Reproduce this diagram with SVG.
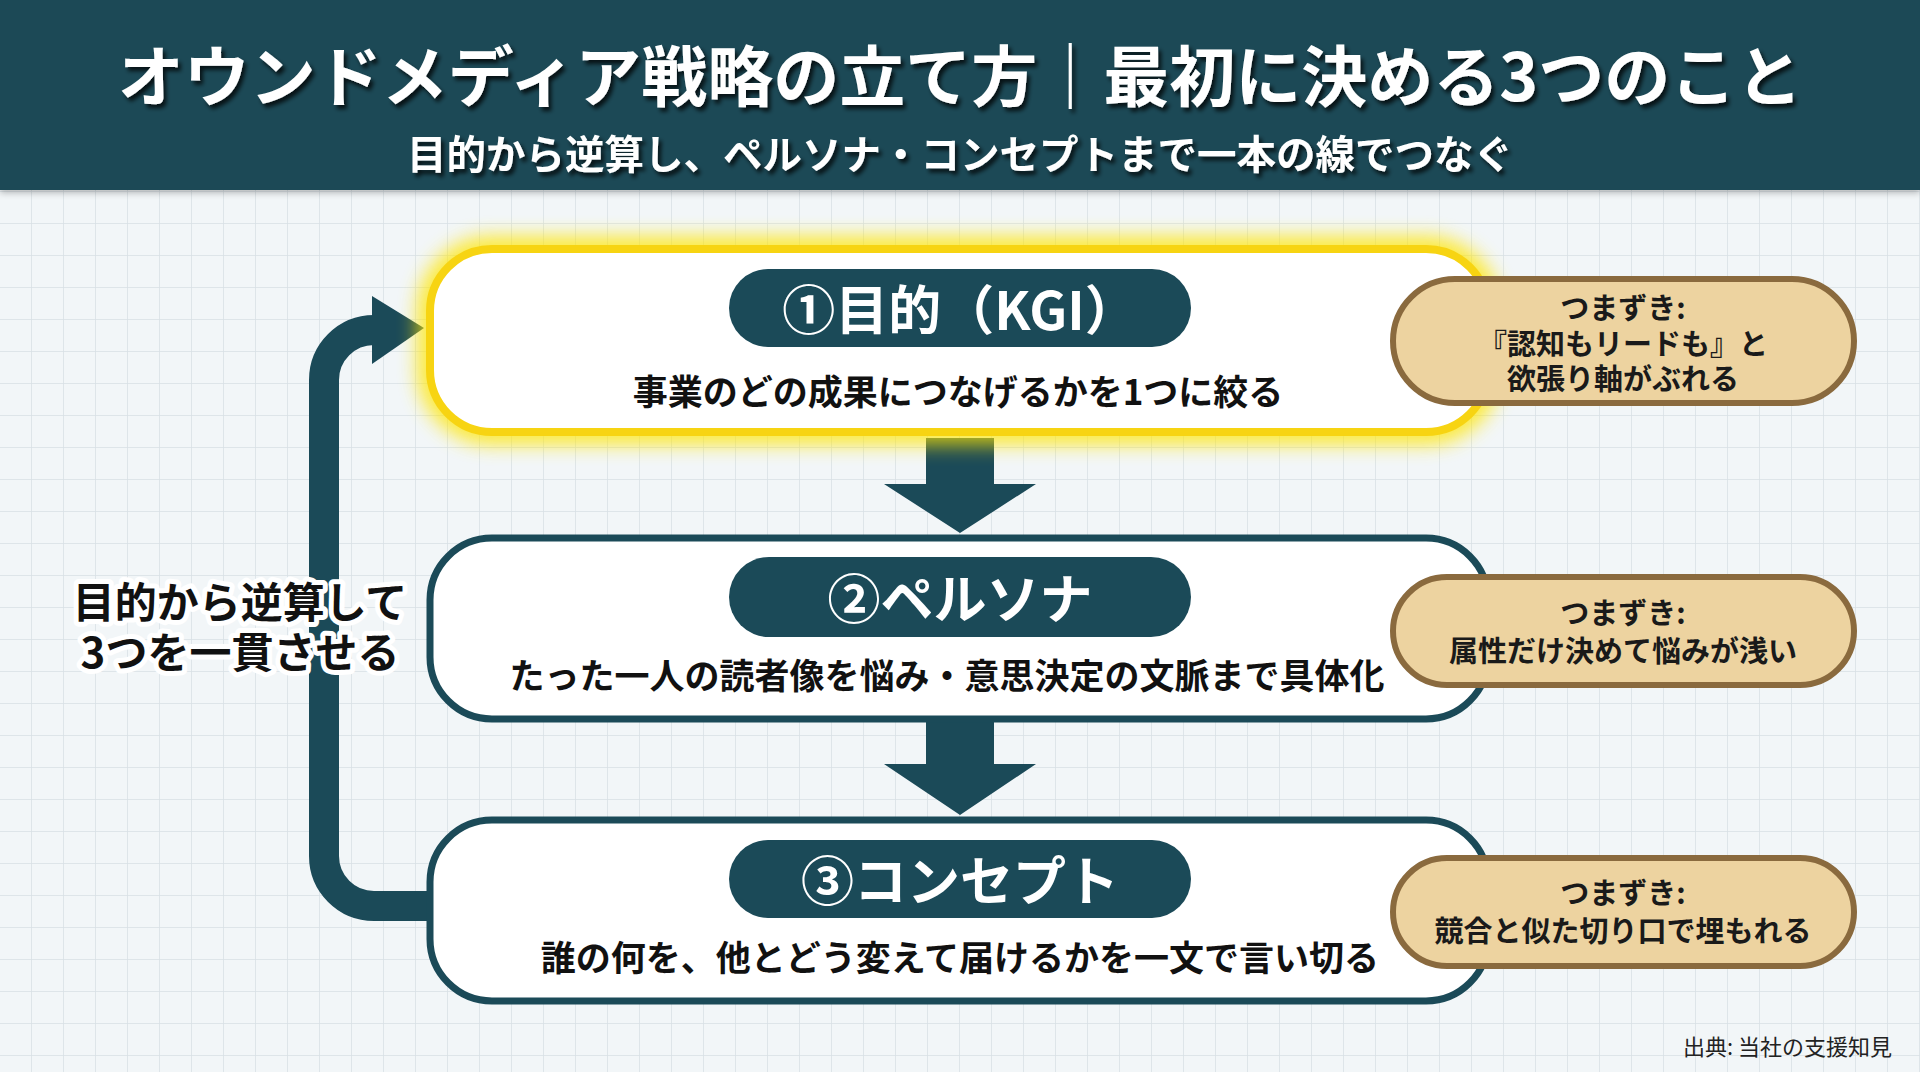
<svg xmlns="http://www.w3.org/2000/svg" width="1920" height="1072" viewBox="0 0 1920 1072">
  <defs>
    <pattern id="grid" width="32" height="32" patternUnits="userSpaceOnUse">
      <rect width="32" height="32" fill="#f2f6f8"/>
      <path d="M32 0 V32 M0 32 H32" stroke="#d8e0e5" stroke-width="1.5" fill="none"/>
    </pattern>
    <filter id="glow" x="-10%" y="-30%" width="120%" height="160%">
      <feGaussianBlur stdDeviation="10"/>
    </filter>
    <filter id="tshadow" x="-5%" y="-30%" width="110%" height="160%">
      <feDropShadow dx="3" dy="4" stdDeviation="2" flood-color="#000" flood-opacity="0.75"/>
    </filter>
    <filter id="hshadow" x="0" y="0" width="100%" height="120%">
      <feDropShadow dx="0" dy="3" stdDeviation="3" flood-color="#000" flood-opacity="0.25"/>
    </filter>
  </defs>
  <style>
    .jp { font-family: "Noto Sans CJK JP", "Noto Sans", sans-serif; }
    .title { font-size: 66px; font-weight: 700; fill: #ffffff; }
    .sub { font-size: 39.5px; font-weight: 700; fill: #ffffff; }
    .node { fill: #ffffff; stroke: #1b4a58; stroke-width: 7; }
    .pill { fill: #1b4a58; }
    .pilltext { font-size: 53px; font-weight: 700; fill: #ffffff; }
    .desc { font-size: 35px; font-weight: 700; fill: #111111; }
    .note { fill: #edd3a0; stroke: #8a6a3e; stroke-width: 6; }
    .notetext { font-size: 29px; font-weight: 700; fill: #1a1a1a; }
    .arrow { fill: #1b4a58; }
    .loop { fill: none; stroke: #1b4a58; stroke-width: 30; }
    .label { font-size: 42px; font-weight: 700; fill: #111111; stroke: #ffffff; stroke-width: 10; stroke-linejoin: round; paint-order: stroke; }
    .src { font-size: 22px; font-weight: 400; fill: #222222; }
  </style>

  <rect width="1920" height="1072" fill="url(#grid)"/>

  <g id="header">
    <rect x="0" y="0" width="1920" height="190" fill="#1c4957" filter="url(#hshadow)"/>
    <text class="jp title" x="960" y="72" text-anchor="middle" dominant-baseline="central" filter="url(#tshadow)">オウンドメディア戦略の立て方｜最初に決める3つのこと</text>
    <text class="jp sub" x="960" y="151" text-anchor="middle" dominant-baseline="central" filter="url(#tshadow)">目的から逆算し、ペルソナ・コンセプトまで一本の線でつなぐ</text>
  </g>

  <g id="connectors">
    <polygon class="arrow" points="926,438 994,438 994,484 1036,484 960,533 884,484 926,484"/>
    <polygon class="arrow" points="926,722 994,722 994,764 1036,764 960,815 884,764 926,764"/>
    <path class="loop" d="M 430 906 H 374 A 50 50 0 0 1 324 856 V 380 A 50 50 0 0 1 374 330 H 384"/>
    <polygon class="arrow" points="372,296 424,328 372,364"/>
  </g>

  <g id="loop-label">
    <text class="jp label" x="240" y="599" text-anchor="middle" dominant-baseline="central">目的から逆算して</text>
    <text class="jp label" x="240" y="649" text-anchor="middle" dominant-baseline="central">3つを一貫させる</text>
  </g>

  <g id="node-goal">
    <rect x="430" y="249" width="1058" height="183" rx="62" fill="none" stroke="#ffe600" stroke-width="24" opacity="0.85" filter="url(#glow)"/>
    <rect x="430" y="249" width="1058" height="183" rx="62" fill="#ffffff" stroke="#f7d412" stroke-width="8"/>
    <rect class="pill" x="729" y="269" width="462" height="78" rx="39"/>
    <text class="jp pilltext" x="960" y="307" text-anchor="middle" dominant-baseline="central">①目的（KGI）</text>
    <text class="jp desc" x="958" y="389" text-anchor="middle" dominant-baseline="central">事業のどの成果につなげるかを1つに絞る</text>
  </g>

  <g id="node-persona">
    <rect class="node" x="430" y="538" width="1058" height="181" rx="62"/>
    <rect class="pill" x="729" y="557" width="462" height="80" rx="40"/>
    <text class="jp pilltext" x="960" y="596" text-anchor="middle" dominant-baseline="central">②ペルソナ</text>
    <text class="jp desc" x="947" y="673" text-anchor="middle" dominant-baseline="central">たった一人の読者像を悩み・意思決定の文脈まで具体化</text>
  </g>

  <g id="node-concept">
    <rect class="node" x="430" y="820" width="1058" height="181" rx="62"/>
    <rect class="pill" x="729" y="840" width="462" height="78" rx="39"/>
    <text class="jp pilltext" x="960" y="878" text-anchor="middle" dominant-baseline="central">③コンセプト</text>
    <text class="jp desc" x="960" y="955" text-anchor="middle" dominant-baseline="central">誰の何を、他とどう変えて届けるかを一文で言い切る</text>
  </g>

  <g id="note-goal">
    <rect class="note" x="1393" y="279" width="461" height="124" rx="62"/>
    <text class="jp notetext" x="1623" y="306" text-anchor="middle" dominant-baseline="central">つまずき:</text>
    <text class="jp notetext" x="1623" y="342" text-anchor="middle" dominant-baseline="central">『認知もリードも』と</text>
    <text class="jp notetext" x="1623" y="377" text-anchor="middle" dominant-baseline="central">欲張り軸がぶれる</text>
  </g>

  <g id="note-persona">
    <rect class="note" x="1393" y="577" width="461" height="108" rx="54"/>
    <text class="jp notetext" x="1623" y="611" text-anchor="middle" dominant-baseline="central">つまずき:</text>
    <text class="jp notetext" x="1623" y="649" text-anchor="middle" dominant-baseline="central">属性だけ決めて悩みが浅い</text>
  </g>

  <g id="note-concept">
    <rect class="note" x="1393" y="858" width="461" height="108" rx="54"/>
    <text class="jp notetext" x="1623" y="891" text-anchor="middle" dominant-baseline="central">つまずき:</text>
    <text class="jp notetext" x="1623" y="929" text-anchor="middle" dominant-baseline="central">競合と似た切り口で埋もれる</text>
  </g>

  <g id="source">
    <text class="jp src" x="1892" y="1045" text-anchor="end" dominant-baseline="central">出典: 当社の支援知見</text>
  </g>
</svg>
